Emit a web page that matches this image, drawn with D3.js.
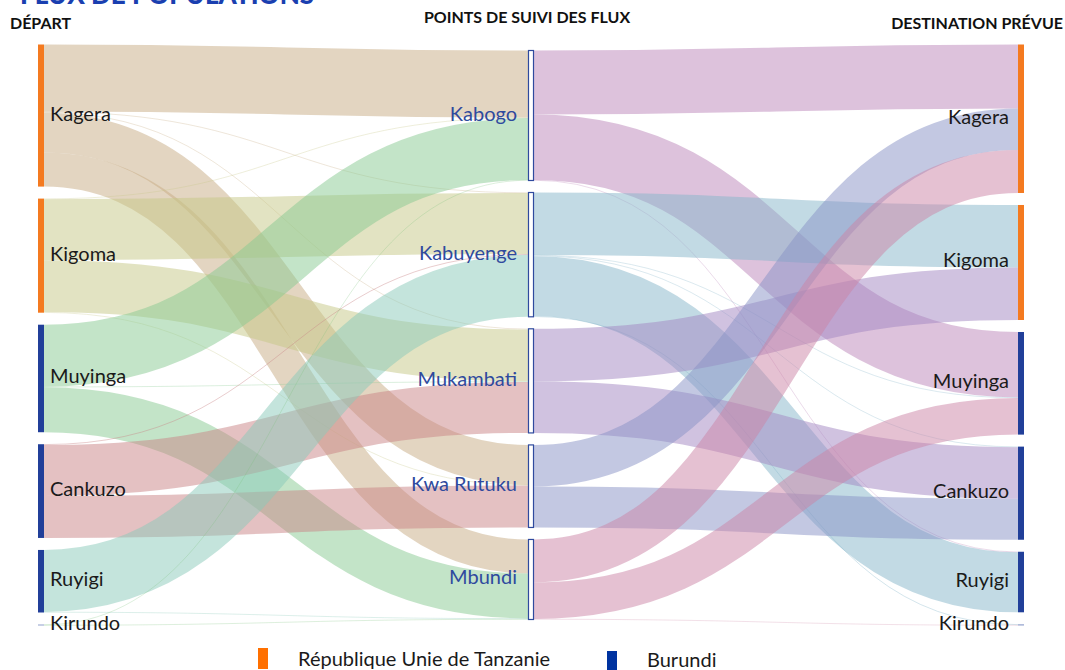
<!DOCTYPE html>
<html>
<head>
<meta charset="utf-8">
<script src="https://cdn.jsdelivr.net/npm/d3@7"></script>
<style>
    body { margin: 0; background: #fff; }
    text { font-family: Lato, "Open Sans", sans-serif; }
</style>
</head>
<body>
<script>
// ---------------------------------------------------------------------------
// Flux de populations : départ -> points de suivi -> destination prévue
// ---------------------------------------------------------------------------

var departs = ["Kagera", "Kigoma", "Muyinga", "Cankuzo", "Ruyigi", "Kirundo"];
var points = ["Kabogo", "Kabuyenge", "Mukambati", "Kwa Rutuku", "Mbundi"];
var destinations = ["Kagera", "Kigoma", "Muyinga", "Cankuzo", "Ruyigi",
    "Kirundo"];

// 0 = Tanzanie, 1 = Burundi (same order as departs / destinations)
var paysProvince = [0, 0, 1, 1, 1, 1];
var pays = ["République Unie de Tanzanie", "Burundi"];

// [départ, point de suivi, valeur]
var fluxDepart = [
    ["Kagera", "Kabogo", 67],
    ["Kagera", "Kabuyenge", 0.6],
    ["Kagera", "Mukambati", 0.6],
    ["Kagera", "Kwa Rutuku", 40],
    ["Kagera", "Mbundi", 34],
    ["Kigoma", "Kabogo", 0.6],
    ["Kigoma", "Kabuyenge", 61],
    ["Kigoma", "Mukambati", 52],
    ["Kigoma", "Kwa Rutuku", 0.6],
    ["Muyinga", "Kabogo", 62],
    ["Muyinga", "Mukambati", 0.6],
    ["Muyinga", "Mbundi", 45],
    ["Cankuzo", "Kabuyenge", 0.8],
    ["Cankuzo", "Mukambati", 51],
    ["Cankuzo", "Kwa Rutuku", 42],
    ["Ruyigi", "Kabuyenge", 62],
    ["Ruyigi", "Mbundi", 0.6],
    ["Kirundo", "Kabogo", 0.5],
    ["Kirundo", "Mbundi", 0.5]
];

// [point de suivi, destination, valeur]
var fluxDestination = [
    ["Kabogo", "Kagera", 64],
    ["Kabogo", "Muyinga", 65.5],
    ["Kabogo", "Ruyigi", 0.6],
    ["Kabuyenge", "Kigoma", 62.5],
    ["Kabuyenge", "Muyinga", 0.6],
    ["Kabuyenge", "Cankuzo", 0.6],
    ["Kabuyenge", "Ruyigi", 60],
    ["Kabuyenge", "Kirundo", 0.7],
    ["Mukambati", "Kigoma", 52.6],
    ["Mukambati", "Cankuzo", 51.6],
    ["Kwa Rutuku", "Kagera", 41.6],
    ["Kwa Rutuku", "Cankuzo", 41],
    ["Mbundi", "Kagera", 43],
    ["Mbundi", "Muyinga", 36.6],
    ["Mbundi", "Kirundo", 0.5]
];

var headers = ["DÉPART", "POINTS DE SUIVI DES FLUX", "DESTINATION PRÉVUE"];

// link colours: by departure for the first stage, by point for the second
var couleurDepart = ["rgba(199,171,131,0.5)", "rgba(197,199,133,0.5)",
    "rgba(135,201,145,0.5)", "rgba(201,131,133,0.5)",
    "rgba(137,201,185,0.5)", "rgba(120,190,120,0.5)"];
var couleurPoint = ["rgba(187,133,185,0.5)", "rgba(133,181,201,0.5)",
    "rgba(161,133,193,0.5)", "rgba(135,145,197,0.5)",
    "rgba(203,131,165,0.5)"];
var couleurPays = ["#f47a20", "#213f99"];
var couleurLegende = ["#ff7000", "#0033a0"];

var W = 1065, H = 670;
var nodeW = 6, pad = 12, centerY = 335;

var svg = d3.select("body").append("svg")
    .attr("width", W)
    .attr("height", H);

var columns = [departs, points, destinations];
var colX = d3.scalePoint().domain([0, 1, 2]).range([38, 1018]);

var total = d3.sum(fluxDepart, function (d) { return d[2]; });
var ky = d3.scaleLinear().domain([0, total]).range([0, 521]);

function somme(flux, k, name) {
    return d3.sum(flux.filter(function (d) { return d[k] === name; }),
        function (d) { return d[2]; });
}

// build the nodes of each column, stacked and centred vertically
var nodes = columns.map(function (names, c) {
    var list = names.map(function (name, i) {
        var vin = 0, vout = 0;
        if (c === 0) vout = somme(fluxDepart, 0, name);
        if (c === 1) {
            vin = somme(fluxDepart, 1, name);
            vout = somme(fluxDestination, 0, name);
        }
        if (c === 2) vin = somme(fluxDestination, 1, name);
        return {name: name, col: c, index: i, value: Math.max(vin, vout)};
    });
    var span = d3.sum(list, function (n) { return ky(n.value); }) +
        pad * (list.length - 1);
    var y = centerY - span / 2;
    list.forEach(function (n) {
        n.y0 = y;
        n.y1 = y + ky(n.value);
        n.sy = n.y0;   // running offset for outgoing links
        n.ty = n.y0;   // running offset for incoming links
        y = n.y1 + pad;
    });
    return list;
});

function findNode(c, name) {
    return nodes[c].filter(function (n) { return n.name === name; })[0];
}

function buildLinks(flux, c, colours) {
    return flux.map(function (d) {
        var s = findNode(c, d[0]), t = findNode(c + 1, d[1]);
        var h = ky(d[2]);
        var link = {
            x0: colX(c) + nodeW, x1: colX(c + 1),
            sy: s.sy + h / 2, ty: t.ty + h / 2,
            width: h,
            color: colours[s.index]
        };
        s.sy += h;
        t.ty += h;
        return link;
    });
}

var links = buildLinks(fluxDepart, 0, couleurDepart)
    .concat(buildLinks(fluxDestination, 1, couleurPoint));

var linkPath = d3.linkHorizontal()
    .source(function (d) { return [d.x0, d.sy]; })
    .target(function (d) { return [d.x1, d.ty]; });

// Title, partly cut off at the top of the picture
svg.append("text")
    .attr("x", 20)
    .attr("y", 4)
    .attr("font-size", "26px")
    .attr("font-weight", 900)
    .attr("fill", "#1a3fb0")
    .text("FLUX DE POPULATIONS");

// links
svg.append("g")
    .attr("fill", "none")
    .selectAll("path")
    .data(links)
    .enter()
    .append("path")
    .attr("d", linkPath)
    .attr("stroke", function (d) { return d.color; })
    .attr("stroke-width", function (d) { return Math.max(0.5, d.width); });

// nodes
var allNodes = nodes[0].concat(nodes[1], nodes[2]);
svg.append("g")
    .selectAll("rect")
    .data(allNodes)
    .enter()
    .append("rect")
    .attr("x", function (d) {
        return colX(d.col) + (d.col === 1 ? 0.5 : 0);
    })
    .attr("y", function (d) { return d.y0; })
    .attr("width", function (d) { return d.col === 1 ? nodeW - 1 : nodeW; })
    .attr("height", function (d) { return Math.max(1, d.y1 - d.y0); })
    .attr("fill", function (d) {
        return d.col === 1 ? "#fff" : couleurPays[paysProvince[d.index]];
    })
    .attr("fill-opacity", function (d) {
        return d.col !== 1 && d.value < 2 ? 0.5 : 1;
    })
    .attr("stroke", function (d) { return d.col === 1 ? "#2f4a9e" : "none"; })
    .attr("stroke-width", 1.2);

// node labels
svg.append("g")
    .selectAll("text")
    .data(allNodes)
    .enter()
    .append("text")
    .attr("x", function (d) {
        if (d.col === 0) return colX(0) + nodeW + 6;
        if (d.col === 1) return colX(1) - 11;
        return colX(2) - 9;
    })
    .attr("y", function (d) { return (d.y0 + d.y1) / 2 - 2; })
    .attr("dy", "0.35em")
    .attr("text-anchor", function (d) { return d.col === 0 ? "start" : "end"; })
    .attr("font-size", "20px")
    .attr("fill", function (d) { return d.col === 1 ? "#2f4a9e" : "#1a1a1a"; })
    .text(function (d) { return d.name; });

// column headers
svg.append("g")
    .selectAll("text")
    .data(headers)
    .enter()
    .append("text")
    .attr("x", function (d, i) { return [10, 527, 1063][i]; })
    .attr("y", function (d, i) { return [29, 23, 29][i]; })
    .attr("text-anchor", function (d, i) {
        return ["start", "middle", "end"][i];
    })
    .attr("font-size", "16px")
    .attr("font-weight", "bold")
    .attr("fill", "#111")
    .text(function (d) { return d; });

// legend
var legend = svg.append("g")
    .selectAll("g")
    .data(pays)
    .enter()
    .append("g")
    .attr("transform", function (d, i) {
        return "translate(" + [258, 607][i] + "," + [648, 651][i] + ")";
    });

legend.append("rect")
    .attr("width", 10)
    .attr("height", function (d, i) { return [21, 19][i]; })
    .attr("fill", function (d, i) { return couleurLegende[i]; });

legend.append("text")
    .attr("x", 40)
    .attr("y", function (d, i) { return [18, 16][i]; })
    .attr("font-size", "20px")
    .attr("fill", "#1a1a1a")
    .text(function (d) { return d; });
</script>
</body>
</html>
